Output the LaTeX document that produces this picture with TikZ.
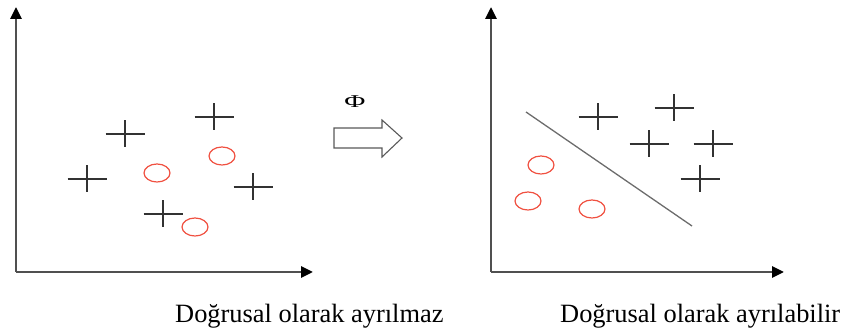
\documentclass[tikz,border=0pt]{standalone}
\usepackage{fontspec}
\setmainfont{Liberation Serif}
\usetikzlibrary{arrows.meta}
\definecolor{axisgray}{RGB}{80,80,80}
\definecolor{ptred}{RGB}{240,80,64}
\definecolor{crossgray}{RGB}{50,50,50}
\tikzset{
  axisline/.style={draw=axisgray, line width=2.8pt, -{Triangle[length=12pt,width=11pt,color=black]}},
  crossmark/.style={draw=crossgray, line width=1.5pt},
  ringmark/.style={draw=ptred, line width=1.2pt},
  sepline/.style={draw=gray!85!black, line width=1.3pt},
  blockarrow/.style={draw=gray!70!black, line width=1.1pt, fill=white},
  caption/.style={font=\fontsize{26.4}{30}\selectfont, inner sep=0pt, anchor=base west},
}
\newcommand{\crossat}[2]{\draw[crossmark] (#1-19.5,#2) -- (#1+19.5,#2) (#1,#2-13.5) -- (#1,#2+13.5);}
\newcommand{\ringat}[2]{\draw[ringmark] (#1,#2) ellipse [x radius=13pt, y radius=9pt];}
\begin{document}
\begin{tikzpicture}[x=1pt,y=-1pt]
\useasboundingbox (0,0) rectangle (847,336);
% left plot
\coordinate (lo) at (16,272);
\coordinate (ly) at (16,7);
\coordinate (lx) at (313,272);
\draw[axisline] (lo) -- (ly);
\draw[axisline] (lo) -- (lx);
\crossat{214}{117}
\crossat{125}{134}
\crossat{87}{179}
\crossat{163}{214}
\crossat{253}{187}
\ringat{157}{173}
\ringat{222}{156}
\ringat{195}{227}
% transform arrow
\node[font=\fontsize{18}{20}\selectfont, inner sep=0pt] (phi) at (355,102) {\scalebox{1.6}[1]{Φ}};
\draw[blockarrow] (334,128) -- (382,128) -- (382,120) -- (402,138) -- (382,157) -- (382,148) -- (334,148) -- cycle;
% right plot
\coordinate (ro) at (491,272);
\coordinate (ry) at (491,7);
\coordinate (rx) at (784,272);
\draw[axisline] (ro) -- (ry);
\draw[axisline] (ro) -- (rx);
\coordinate (s1) at (526,112);
\coordinate (s2) at (692,226);
\draw[sepline] (s1) -- (s2);
\crossat{598}{117}
\crossat{674}{108}
\crossat{649}{144}
\crossat{713}{144}
\crossat{700}{179}
\ringat{541}{165}
\ringat{528}{201}
\ringat{592}{209}
% captions
\node[caption] (c1) at (175,323) {Doğrusal olarak ayrılmaz};
\node[caption] (c2) at (560,323) {Doğrusal olarak ayrılabilir};
\end{tikzpicture}
\end{document}
